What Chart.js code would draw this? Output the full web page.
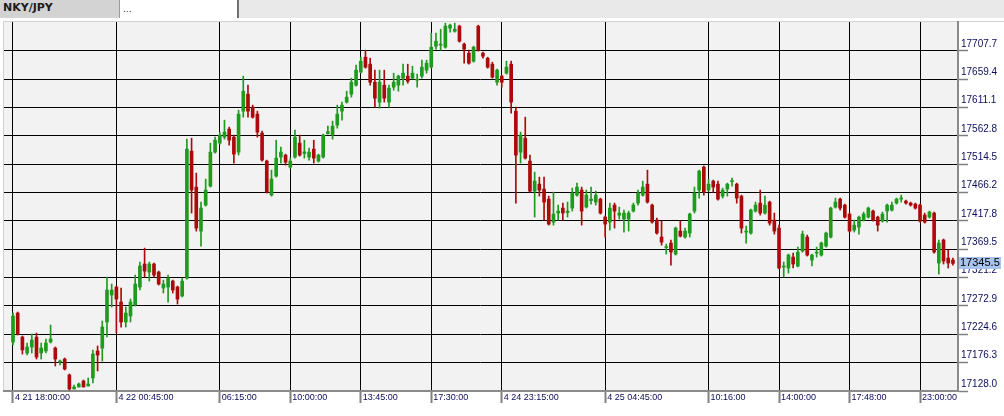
<!DOCTYPE html>
<html>
<head>
<meta charset="utf-8">
<script src="https://cdn.jsdelivr.net/npm/chart.js@4.4.1/dist/chart.umd.min.js"></script>
<style>
  body { margin: 0; background: #fff; }
  #wrap { position: relative; width: 1004px; height: 416px; overflow: hidden; }
  #chart { position: absolute; left: 0; top: 0; }
  #hdr { position: absolute; left: 0; top: 0; width: 1004px; height: 18px; background: #e9e9e9; }
  #tab1 { position: absolute; left: 0; top: 0; width: 120px; height: 18px; box-sizing: border-box;
          background: #d3d3d3; border-right: 1px solid #9a9a9a; padding-left: 3px;
          font: bold 11px 'DejaVu Sans', sans-serif; line-height: 16px; color: #1c1c1c; }
  #tab2 { position: absolute; left: 120px; top: 0; width: 119px; height: 18px; box-sizing: border-box;
          background: #fff; border-right: 2px solid #707070; padding-left: 3px;
          font: 9px 'DejaVu Sans', sans-serif; line-height: 18px; color: #333; }
</style>
</head>
<body>
<div id="wrap">
  <canvas id="chart" width="1004" height="416"></canvas>
  <div id="hdr"><div id="tab1">NKY/JPY</div><div id="tab2">...</div></div>
</div>
<script>
// OHLC per bar (15 min candles)
const opens = [
  17211.5, 17260.9, 17220.0, 17192.7, 17203.0, 17220.0, 17192.7, 17196.2, 17211.5, 17201.2,
  17177.4, 17182.5, 17155.3, 17131.4, 17134.8, 17145.0, 17136.5, 17150.2, 17196.2, 17201.2,
  17245.6, 17291.6, 17305.2, 17279.6, 17245.6, 17255.8, 17274.5, 17305.2, 17344.4, 17330.7,
  17344.4, 17330.7, 17303.5, 17305.2, 17315.4, 17305.2, 17289.9, 17320.5, 17536.9, 17475.6,
  17400.6, 17444.9, 17477.3, 17535.2, 17550.5, 17560.7, 17574.4, 17560.7, 17535.2, 17605.0,
  17634.0, 17611.9, 17599.9, 17567.6, 17519.9, 17461.9, 17494.3, 17526.7, 17530.1, 17509.6,
  17526.7, 17550.5, 17532.9, 17526.7, 17540.3, 17519.9, 17526.7, 17566.7, 17564.2, 17581.2,
  17605.0, 17620.4, 17634.0, 17649.3, 17671.5, 17697.0, 17685.1, 17654.4, 17620.4, 17649.3,
  17620.4, 17645.9, 17649.3, 17661.3, 17664.7, 17661.3, 17657.9, 17664.7, 17674.9, 17680.0,
  17715.8, 17717.5, 17714.1, 17746.5, 17741.3, 17749.9, 17719.2, 17703.8, 17690.2, 17749.9,
  17703.8, 17695.3, 17685.1, 17654.4, 17664.7, 17669.8, 17685.1, 17605.0, 17535.2, 17559.0,
  17519.9, 17468.7, 17480.6, 17472.2, 17455.1, 17415.9, 17431.3, 17439.8, 17432.1, 17439.8,
  17461.9, 17470.5, 17441.5, 17452.6, 17450.0, 17455.1, 17424.4, 17415.9, 17444.9, 17427.8,
  17421.0, 17421.0, 17434.7, 17448.3, 17461.9, 17480.6, 17444.9, 17419.3, 17390.4, 17372.5,
  17380.2, 17361.4, 17400.6, 17390.4, 17397.2, 17434.7, 17470.5, 17509.6, 17470.5, 17485.8,
  17480.6, 17460.2, 17472.2, 17484.9, 17480.6, 17460.2, 17398.9, 17397.2, 17434.7, 17448.3,
  17431.3, 17450.0, 17419.3, 17405.7, 17339.3, 17337.6, 17356.3, 17341.0, 17366.5, 17390.4,
  17351.2, 17363.1, 17359.7, 17375.0, 17390.4, 17441.5, 17455.1, 17444.9, 17429.6, 17402.3,
  17407.4, 17419.3, 17424.4, 17434.7, 17424.4, 17417.6, 17434.7, 17436.4, 17448.3, 17455.1,
  17451.7, 17448.3, 17446.6, 17444.9, 17427.8, 17424.4, 17431.3, 17346.1, 17385.3, 17354.6,
  17351.2
];
const highs = [
  17260.9, 17262.6, 17221.7, 17209.8, 17225.1, 17226.8, 17209.8, 17216.6, 17240.5, 17203.0,
  17180.8, 17184.2, 17157.0, 17138.2, 17141.6, 17146.7, 17150.2, 17197.9, 17204.7, 17247.3,
  17322.2, 17310.3, 17306.9, 17303.5, 17271.1, 17284.7, 17325.6, 17347.8, 17371.6, 17347.8,
  17346.1, 17332.4, 17317.1, 17325.6, 17317.1, 17306.9, 17320.5, 17557.3, 17559.0, 17499.4,
  17450.0, 17489.2, 17550.5, 17560.7, 17569.3, 17589.7, 17577.8, 17564.2, 17606.7, 17664.7,
  17649.3, 17615.3, 17605.0, 17571.0, 17521.6, 17504.5, 17555.6, 17543.7, 17531.8, 17525.0,
  17572.7, 17564.2, 17555.6, 17542.0, 17555.6, 17531.8, 17565.9, 17579.5, 17588.0, 17615.3,
  17620.4, 17639.1, 17661.3, 17683.4, 17697.0, 17709.0, 17695.3, 17674.9, 17674.9, 17674.9,
  17649.3, 17669.8, 17666.4, 17685.1, 17685.1, 17681.7, 17668.1, 17691.9, 17691.9, 17737.9,
  17737.9, 17744.7, 17755.0, 17753.3, 17755.0, 17751.6, 17720.9, 17709.0, 17715.8, 17751.6,
  17705.6, 17697.0, 17688.5, 17676.6, 17666.4, 17690.2, 17690.2, 17611.9, 17569.3, 17594.8,
  17530.1, 17501.1, 17492.6, 17492.6, 17460.2, 17467.0, 17444.9, 17448.3, 17450.0, 17473.9,
  17482.4, 17475.6, 17470.5, 17475.6, 17468.7, 17456.8, 17426.1, 17448.3, 17448.3, 17441.5,
  17436.4, 17434.7, 17448.3, 17470.5, 17485.8, 17504.5, 17446.6, 17422.7, 17417.6, 17378.4,
  17385.3, 17407.4, 17417.6, 17405.7, 17431.3, 17475.6, 17504.5, 17511.3, 17489.2, 17487.5,
  17485.8, 17473.9, 17482.4, 17490.9, 17482.4, 17461.9, 17409.1, 17438.1, 17450.0, 17470.5,
  17460.2, 17451.7, 17431.3, 17410.8, 17347.8, 17361.4, 17363.1, 17373.3, 17400.6, 17393.8,
  17361.4, 17373.3, 17381.9, 17398.9, 17441.5, 17456.8, 17456.8, 17446.6, 17431.3, 17419.3,
  17426.1, 17433.0, 17441.5, 17436.4, 17426.1, 17433.0, 17446.6, 17450.0, 17456.8, 17461.9,
  17453.4, 17450.0, 17448.3, 17446.6, 17431.3, 17434.7, 17433.0, 17385.3, 17387.0, 17368.2,
  17354.6
];
const lows = [
  17206.4, 17223.4, 17191.0, 17189.3, 17192.7, 17182.5, 17182.5, 17192.7, 17209.8, 17170.6,
  17172.3, 17163.8, 17129.7, 17131.4, 17134.8, 17134.8, 17136.5, 17141.6, 17162.1, 17179.1,
  17220.0, 17271.1, 17226.8, 17237.0, 17237.0, 17245.6, 17272.8, 17300.1, 17322.2, 17315.4,
  17322.2, 17308.6, 17295.0, 17279.6, 17295.0, 17276.2, 17288.2, 17318.8, 17431.3, 17400.6,
  17374.9, 17443.2, 17475.6, 17533.5, 17548.8, 17557.3, 17547.1, 17516.5, 17530.1, 17594.8,
  17594.8, 17593.1, 17560.7, 17519.9, 17465.3, 17460.2, 17492.6, 17516.5, 17513.0, 17507.9,
  17525.0, 17528.4, 17525.0, 17521.6, 17516.5, 17518.1, 17525.0, 17565.9, 17557.3, 17576.1,
  17589.7, 17618.7, 17628.9, 17647.6, 17669.8, 17678.3, 17649.3, 17611.9, 17610.2, 17620.4,
  17611.9, 17640.8, 17639.1, 17649.3, 17652.7, 17659.6, 17645.9, 17661.3, 17669.8, 17678.3,
  17710.7, 17709.0, 17712.4, 17739.6, 17739.6, 17722.6, 17686.8, 17685.1, 17688.5, 17707.3,
  17695.3, 17678.3, 17661.3, 17649.3, 17645.9, 17668.1, 17601.6, 17448.3, 17516.5, 17523.3,
  17467.0, 17424.4, 17460.2, 17419.3, 17410.8, 17410.8, 17419.3, 17419.3, 17424.4, 17434.7,
  17460.2, 17410.8, 17439.8, 17446.6, 17444.9, 17429.6, 17390.4, 17402.3, 17405.7, 17421.0,
  17398.9, 17400.6, 17433.0, 17444.9, 17460.2, 17448.3, 17414.2, 17395.5, 17376.7, 17361.4,
  17342.7, 17359.7, 17390.4, 17388.7, 17390.4, 17431.3, 17456.8, 17461.9, 17468.7, 17467.0,
  17453.4, 17456.8, 17460.2, 17477.3, 17448.3, 17397.2, 17380.2, 17395.5, 17433.0, 17427.8,
  17429.6, 17410.8, 17395.5, 17335.9, 17322.2, 17329.0, 17337.6, 17339.3, 17364.8, 17358.0,
  17341.0, 17356.3, 17358.0, 17373.3, 17388.7, 17439.8, 17436.4, 17422.7, 17398.9, 17398.9,
  17395.5, 17417.6, 17422.7, 17417.6, 17400.6, 17415.9, 17415.9, 17434.7, 17446.6, 17450.0,
  17446.6, 17443.2, 17438.1, 17415.9, 17414.2, 17422.7, 17363.1, 17327.3, 17344.4, 17337.6,
  17342.7
];
const closes = [
  17255.8, 17225.1, 17197.9, 17203.0, 17214.9, 17185.9, 17201.2, 17209.8, 17216.6, 17182.5,
  17179.1, 17165.5, 17131.4, 17134.8, 17140.0, 17134.8, 17140.0, 17191.0, 17189.3, 17237.0,
  17300.1, 17300.1, 17284.7, 17245.6, 17260.9, 17279.6, 17310.3, 17341.0, 17332.4, 17344.4,
  17325.6, 17310.3, 17310.3, 17320.5, 17300.1, 17284.7, 17315.4, 17540.3, 17470.5, 17405.7,
  17439.8, 17470.5, 17535.2, 17555.6, 17564.2, 17569.3, 17555.6, 17531.8, 17599.9, 17639.1,
  17605.0, 17594.8, 17569.3, 17521.6, 17467.0, 17489.2, 17525.0, 17535.2, 17518.1, 17519.9,
  17560.7, 17530.1, 17535.7, 17535.2, 17525.0, 17530.1, 17564.2, 17570.1, 17579.5, 17599.9,
  17615.3, 17628.9, 17654.4, 17674.9, 17690.2, 17680.0, 17654.4, 17627.2, 17654.4, 17627.2,
  17644.2, 17654.4, 17664.7, 17669.8, 17656.1, 17669.8, 17659.6, 17680.0, 17686.8, 17714.1,
  17724.3, 17719.2, 17749.9, 17751.6, 17744.7, 17724.3, 17710.7, 17686.8, 17714.1, 17709.0,
  17698.7, 17680.0, 17663.0, 17674.9, 17654.4, 17680.0, 17620.4, 17530.1, 17564.2, 17525.0,
  17468.7, 17485.8, 17470.5, 17450.0, 17412.5, 17429.6, 17434.7, 17431.3, 17434.7, 17465.3,
  17475.6, 17434.7, 17461.9, 17455.1, 17461.9, 17431.3, 17412.5, 17439.8, 17434.7, 17431.3,
  17431.3, 17431.3, 17444.9, 17465.3, 17475.6, 17450.0, 17415.9, 17397.2, 17381.9, 17374.2,
  17364.8, 17405.7, 17392.1, 17400.6, 17429.6, 17465.3, 17502.8, 17467.0, 17480.6, 17475.6,
  17455.1, 17470.5, 17480.6, 17486.6, 17456.8, 17405.7, 17400.6, 17436.4, 17444.9, 17431.3,
  17444.9, 17414.2, 17400.6, 17337.6, 17341.0, 17359.7, 17344.4, 17364.8, 17395.5, 17359.7,
  17359.7, 17364.8, 17380.2, 17397.2, 17439.8, 17450.0, 17439.8, 17424.4, 17400.6, 17410.8,
  17424.4, 17429.6, 17439.8, 17419.3, 17410.8, 17429.6, 17444.9, 17444.9, 17455.1, 17456.8,
  17448.3, 17444.9, 17439.8, 17417.6, 17415.9, 17433.0, 17364.8, 17380.2, 17349.5, 17346.1,
  17345.5
];

// time axis: bar index of each labelled grid line
const xTickIdx = [0, 22, 44, 59, 74, 89, 104, 126, 148, 163, 178, 193];
const xTickLabels = ['4 21 18:00:00', '4 22 00:45:00', '06:15:00', '10:00:00', '13:45:00', '17:30:00',
  '4 24 23:15:00', '4 25 04:45:00', '10:16:00', '14:00:00', '17:48:00', '23:00:00'];
const yTickLabels = ['17128.0', '17176.3', '17224.6', '17272.9', '17321.2', '17369.5', '17417.8',
  '17466.2', '17514.5', '17562.8', '17611.1', '17659.4', '17707.7'];

const upColor = '#1e9a1e';
const downColor = '#ab0a0a';
const labelColor = '#0c0c5a';

const idx = opens.map((_, i) => i);
const candleColor = ctx => closes[ctx.dataIndex] >= opens[ctx.dataIndex] ? upColor : downColor;

const plotBg = {
  id: 'plotBg',
  beforeDraw(chart) {
    const { ctx, chartArea: a } = chart;
    ctx.save();
    ctx.fillStyle = '#fff';
    ctx.fillRect(0, 0, chart.width, chart.height);
    ctx.fillStyle = '#f2f2f2';
    ctx.fillRect(a.left, a.top, a.right - a.left, a.bottom - a.top);
    ctx.strokeStyle = '#d0d0d0';
    ctx.lineWidth = 1;
    ctx.beginPath();
    ctx.moveTo(a.left - 0.5, a.bottom);
    ctx.lineTo(a.left - 0.5, a.top - 0.5);
    ctx.lineTo(chart.width, a.top - 0.5);
    ctx.stroke();
    ctx.restore();
  }
};

// last price marker on the right axis
const lastPrice = {
  id: 'lastPrice',
  afterDraw(chart) {
    const { ctx, chartArea: a } = chart;
    const v = closes[closes.length - 1];
    const y = Math.round(chart.scales.y.getPixelForValue(v));
    ctx.save();
    ctx.fillStyle = '#a9c3ef';
    ctx.fillRect(a.right + 1, y - 6, 42, 12);
    ctx.fillStyle = '#000';
    ctx.font = '11px "Liberation Sans", Arial, sans-serif';
    ctx.textBaseline = 'middle';
    ctx.fillText(v.toFixed(1), a.right + 2, y);
    ctx.restore();
  }
};

new Chart(document.getElementById('chart'), {
  type: 'bar',
  data: {
    datasets: [
      {
        label: 'body',
        data: idx.map(i => ({ x: i, y: [opens[i], closes[i]] })),
        backgroundColor: candleColor,
        barThickness: 3,
        minBarLength: 1,
        grouped: false,
        order: 0
      },
      {
        label: 'wick',
        data: idx.map(i => ({ x: i, y: [lows[i], highs[i]] })),
        backgroundColor: candleColor,
        barThickness: 1,
        grouped: false,
        order: 1
      }
    ]
  },
  options: {
    responsive: false,
    animation: false,
    devicePixelRatio: 1,
    layout: { padding: { left: 4, top: 22, right: 0, bottom: 0 } },
    plugins: { legend: { display: false }, tooltip: { enabled: false } },
    scales: {
      x: {
        type: 'linear',
        offset: false,
        min: -1.915,
        max: 201.08,
        afterBuildTicks: s => { s.ticks = xTickIdx.map(v => ({ value: v })); },
        afterFit: s => { s.height = 25; },
        ticks: {
          callback: (v, k) => xTickLabels[k],
          align: 'start',
          labelOffset: 2,
          padding: -11,
          maxRotation: 0,
          autoSkip: false,
          color: labelColor,
          font: { family: '"Liberation Sans", Arial, sans-serif', size: 9 }
        },
        grid: { offset: false, color: '#000', lineWidth: 1, tickColor: '#808080', tickLength: 12, tickWidth: 2 },
        border: { color: '#8a8a8a', width: 2 }
      },
      y: {
        position: 'right',
        min: 17128.0,
        max: 17757.0,
        afterBuildTicks: s => { s.ticks = yTickLabels.map(t => ({ value: parseFloat(t) })); },
        afterFit: s => { s.width = 46; },
        ticks: {
          callback: (v, k) => yTickLabels[k],
          padding: -7,
          labelOffset: -7,
          color: labelColor,
          font: { family: '"Liberation Sans", Arial, sans-serif', size: 10 }
        },
        grid: { color: '#000', lineWidth: 1, tickColor: '#808080', tickLength: 10, tickWidth: 1.5 },
        border: { color: '#8a8a8a', width: 2 }
      }
    }
  },
  plugins: [plotBg, lastPrice]
});
</script>
</body>
</html>
